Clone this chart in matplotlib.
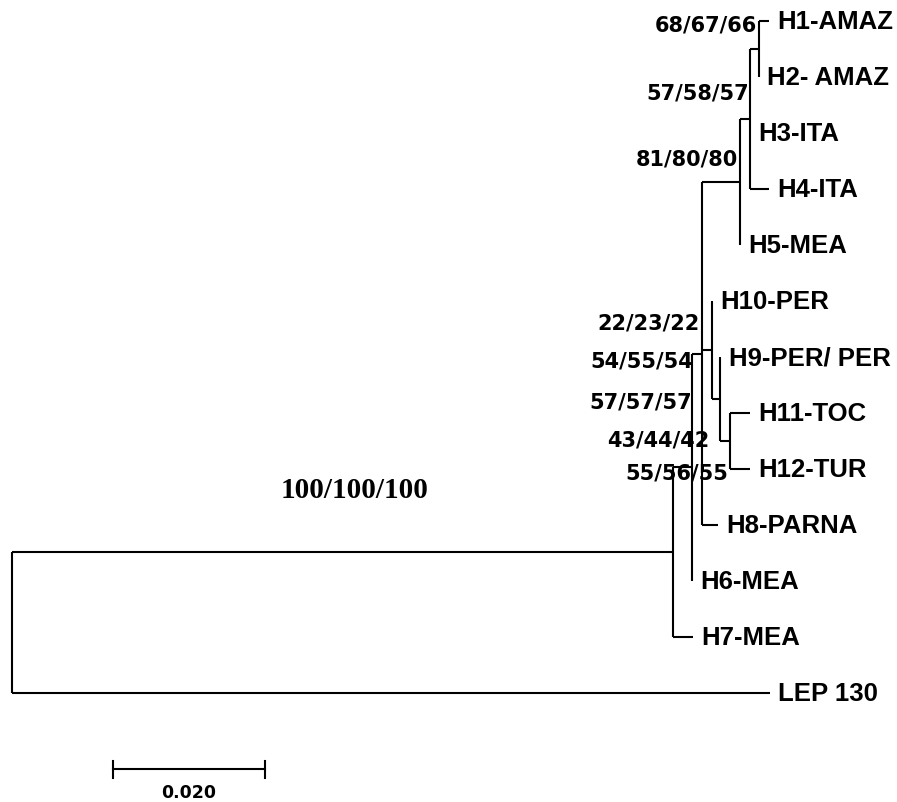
import matplotlib
matplotlib.use("Agg")
import matplotlib.pyplot as plt

# tree topology: node, parent, branch length (substitutions/site)
node_names = ["A", "LEP 130", "B", "H7-MEA", "C", "H6-MEA", "D", "E", "H8-PARNA",
              "H", "H5-MEA", "I", "H3-ITA", "H4-ITA", "H1-AMAZ", "H2- AMAZ",
              "H10-PER", "F", "H9-PER/ PER", "G", "H11-TOC", "H12-TUR"]
parents = ["root", "root", "A", "A", "B", "B", "C", "C", "C",
           "D", "D", "H", "H", "H", "I", "I",
           "E", "E", "F", "F", "G", "G"]
branch_len = [0.0870, 0.0997, 0.0025, 0.0026, 0.0013, 0.0, 0.0050, 0.0013, 0.0021,
              0.0013, 0.0, 0.0012, 0.0, 0.0025, 0.0013, 0.0,
              0.0, 0.0011, 0.0, 0.0013, 0.0026, 0.0026]

# leaves from top to bottom
leaf_order = ["H1-AMAZ", "H2- AMAZ", "H3-ITA", "H4-ITA", "H5-MEA", "H10-PER",
              "H9-PER/ PER", "H11-TOC", "H12-TUR", "H8-PARNA", "H6-MEA",
              "H7-MEA", "LEP 130"]

# bootstrap values and where they were written on the figure
support_text = ["68/67/66", "57/58/57", "81/80/80", "22/23/22", "54/55/54",
                "57/57/57", "43/44/42", "55/56/55"]
support_x = [0.0980, 0.0970, 0.0955, 0.0905, 0.0896, 0.0895, 0.0918, 0.0942]
support_y = [0.07, 1.27, 2.46, 5.38, 6.07, 6.79, 7.48, 8.07]
root_support = "100/100/100"
root_support_x = 0.0451
root_support_y = 8.36

scale_len = 0.020

# build children and positions
children = {}
for n, p in zip(node_names, parents):
    children.setdefault(p, []).append(n)
blen = dict(zip(node_names, branch_len))

xpos = {"root": 0.0}
def set_x(node):
    for c in children.get(node, []):
        xpos[c] = xpos[node] + blen[c]
        set_x(c)
set_x("root")

ypos = {leaf: i for i, leaf in enumerate(leaf_order)}
def set_y(node):
    if node in ypos:
        return ypos[node]
    ys = [set_y(c) for c in children[node]]
    ypos[node] = (ys[0] + ys[-1]) / 2
    return ypos[node]
set_y("root")

fig = plt.figure(figsize=(8.97, 8.03), dpi=100)
ax = fig.add_axes([0, 0, 1, 1])
ax.set_xlim(-12 / 7600, 885 / 7600)
ax.set_ylim(13.946, -0.393)
ax.axis("off")

lw = 1.5
for node, kids in children.items():
    ys = [ypos[c] for c in kids]
    ax.plot([xpos[node], xpos[node]], [min(ys), max(ys)], color="black", lw=lw,
            solid_capstyle="butt")
    for c in kids:
        ax.plot([xpos[node], xpos[c]], [ypos[c], ypos[c]], color="black", lw=lw,
                solid_capstyle="butt")

for leaf in leaf_order:
    ax.annotate(leaf, (xpos[leaf], ypos[leaf]), xytext=(6, 0),
                textcoords="offset points", va="center", ha="left",
                fontsize=18.5, fontweight="bold", family="Liberation Sans")

for t, x, y in zip(support_text, support_x, support_y):
    ax.text(x, y, t, ha="right", va="center", fontsize=15,
            fontweight="bold", family="DejaVu Sans")

ax.text(root_support_x, root_support_y, root_support, ha="center", va="center",
        fontsize=21, fontweight="bold", family="Liberation Serif")

# scale bar
sx0 = 101 / 7600
sy = 13.36
ax.plot([sx0, sx0 + scale_len], [sy, sy], color="black", lw=lw)
for xx in (sx0, sx0 + scale_len):
    ax.plot([xx, xx], [sy - 0.15, sy + 0.15], color="black", lw=lw)
ax.text(sx0 + scale_len / 2, 13.76, f"{scale_len:.3f}", ha="center", va="center",
        fontsize=12.5, fontweight="bold", family="DejaVu Sans")

fig.savefig("out.png", dpi=100)
